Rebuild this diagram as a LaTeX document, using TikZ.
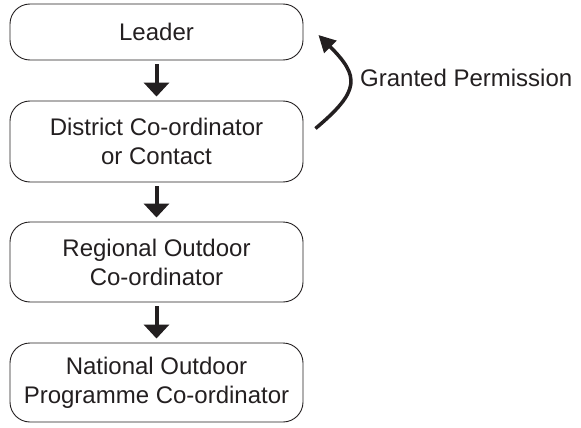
\documentclass[tikz,border=0pt]{standalone}
\usepackage{fontspec}
\setmainfont{Liberation Sans}
\usetikzlibrary{arrows.meta}
\definecolor{ink}{RGB}{35,31,32}
\tikzset{
  stage/.style={draw=ink, line width=0.9pt, rounded corners=20pt, align=center, text=ink,
    minimum width=293pt, inner sep=2pt},
  flow/.style={draw=ink, line width=4pt, -{Triangle[width=25pt,length=14pt]}, shorten <=4pt, shorten >=4pt},
  permit/.style={draw=ink, line width=3.5pt, -{Triangle[width=17pt,length=17pt]}}
}
\begin{document}
\begin{tikzpicture}[x=1pt, y=-1pt, font=\fontsize{24}{29}\selectfont, line join=round]
			\useasboundingbox (0,0) rectangle (581,428);
			\node[stage, minimum height=56pt] (leader) at (156.5,32) {Leader};
			\node[stage, minimum height=81pt] (district) at (156.5,141.5) {District Co-ordinator\\or Contact};
			\node[stage, minimum height=80pt] (regional) at (156.5,262) {Regional Outdoor\\Co-ordinator};
			\node[stage, minimum height=79pt] (national) at (156.5,382.5) {National Outdoor\\Programme Co-ordinator};
			\draw[flow] (leader) -- (district);
			\draw[flow] (district) -- (regional);
			\draw[flow] (regional) -- (national);
			% permission goes back up
			\draw[permit] ([xshift=12pt,yshift=13pt]district.east) to[out=40, in=-45, looseness=1.6] ([xshift=15pt,yshift=-3pt]leader.east);
			\node[anchor=base west, text=ink, inner sep=0pt] (granted) at (360,87) {Granted Permission};
		\end{tikzpicture}
\end{document}
